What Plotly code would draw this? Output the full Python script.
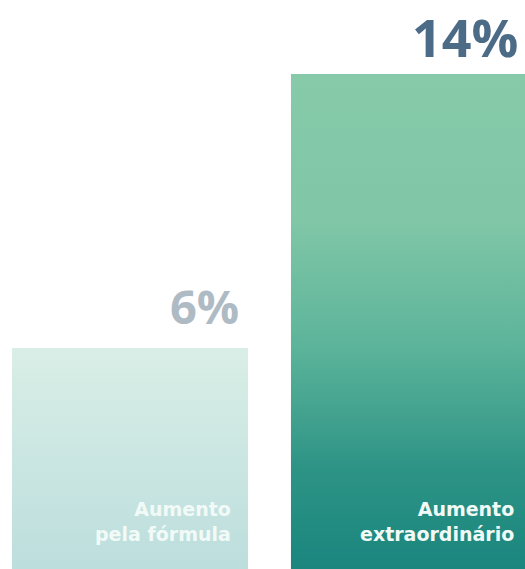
import plotly.graph_objects as go

# ---- data ----
categories = ["Aumento<br>pela fórmula", "Aumento<br>extraordinário"]
values = [6, 14]
value_labels = ["6%", "14%"]

# ---- styles ----
bar_gradients = [
    [[0, "#bcdedd"], [1, "#d9eee6"]],
    [[0, "#1a867e"], [0.2, "#2d9385"], [0.45, "#5cb49a"], [0.7, "#80c6a7"], [1, "#86caa9"]],
]
value_colors = ["#aebbc5", "#4b6b87"]
value_sizes = [47, 52]
value_yshift = [9, 1]
label_xshift = [103, 107]
HALF_W = 0.423
Y_FLOOR = -0.45
Y_TOP = 16.16

fig = go.Figure()
for i, (cat, v) in enumerate(zip(categories, values)):
    x0, x1 = i - HALF_W, i + HALF_W
    fig.add_trace(go.Scatter(
        x=[x0, x1, x1, x0, x0],
        y=[Y_FLOOR, Y_FLOOR, v, v, Y_FLOOR],
        mode="lines",
        fill="toself",
        line=dict(width=0),
        fillgradient=dict(type="vertical", colorscale=bar_gradients[i],
                          start=Y_FLOOR, stop=v),
        hoverinfo="skip",
        showlegend=False,
    ))
    fig.add_annotation(
        x=i, y=v, xref="x", yref="y",
        text=value_labels[i], showarrow=False,
        xanchor="right", yanchor="bottom", xshift=110, yshift=value_yshift[i],
        borderpad=0,
        font=dict(family="Open Sans", size=value_sizes[i], color=value_colors[i], weight=700),
    )
    fig.add_annotation(
        x=i, y=Y_FLOOR, xref="x", yref="y",
        text=cat, showarrow=False, align="right",
        xanchor="right", yanchor="bottom", xshift=label_xshift[i], yshift=22,
        font=dict(family="DejaVu Sans", size=19, color="#f2faf7", weight=700),
    )

fig.update_layout(
    width=525, height=569,
    margin=dict(l=0, r=0, t=0, b=0),
    paper_bgcolor="white", plot_bgcolor="white",
    xaxis=dict(range=[-0.466, 1.416], visible=False, fixedrange=True),
    yaxis=dict(range=[Y_FLOOR, Y_TOP], visible=False, fixedrange=True),
)
fig.write_html(
    "out.html",
    config={"displayModeBar": False},
    post_script="document.body.style.margin='0';",
)
